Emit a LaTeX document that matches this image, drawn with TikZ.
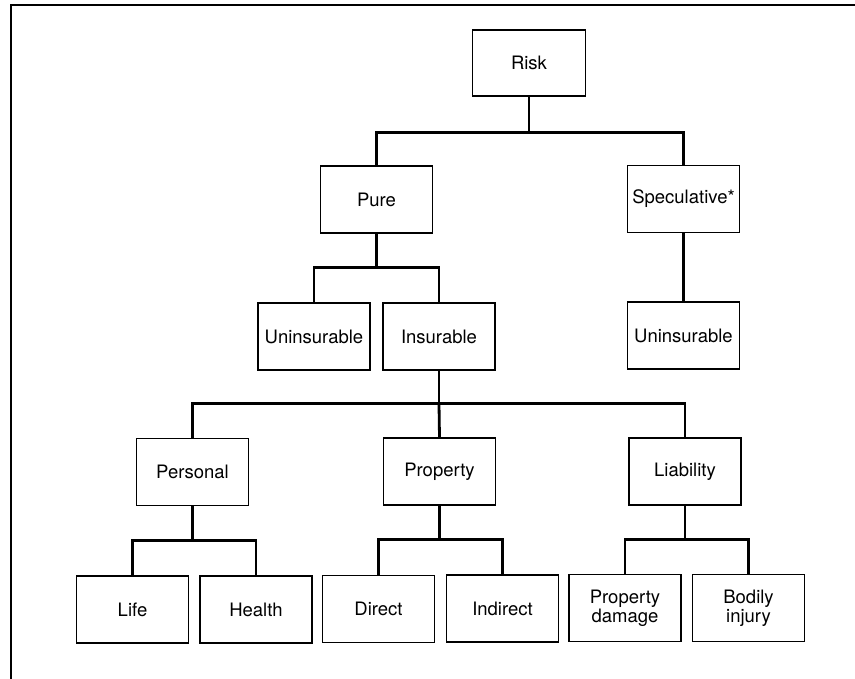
\documentclass[tikz,border=0pt]{standalone}
\usepackage{fontspec}
\setmainfont{TeX Gyre Heros}
\begin{document}
\begin{tikzpicture}[x=1pt,y=-1pt,
  box/.style={draw=black, line width=1.2pt, minimum width=112pt, minimum height=67pt,
    inner sep=0pt, align=center, font=\fontsize{18.5}{19}\selectfont},
  conn/.style={draw=black, line width=2.8pt},
  frame/.style={draw=black, line width=2.8pt}]
\useasboundingbox (0,0) rectangle (855,679);
\fill[white] (0,0) rectangle (855,679);
\draw[frame] (11,679) -- (11,5) -- (855,5);

\node[box, minimum width=113pt, minimum height=66pt] (risk) at (529,63) {Risk};
\node[box] (pure) at (376.5,199.5) {Pure};
\node[box] (spec) at (683.5,199) {Speculative*};
\node[box] (unl) at (314,336.5) {Uninsurable};
\node[box] (ins) at (439,336.5) {Insurable};
\node[box] (unr) at (683.5,335.5) {Uninsurable};
\node[box] (personal) at (192.5,472) {Personal};
\node[box] (property) at (439.5,471.5) {Property};
\node[box] (liab) at (685,471.5) {Liability};
\node[box] (life) at (132.5,609.5) {Life};
\node[box] (health) at (256,609.5) {Health};
\node[box] (direct) at (378.5,609) {Direct};
\node[box] (indirect) at (502.5,608.5) {Indirect};
\node[box] (pdam) at (625,608) {Property\\damage};
\node[box] (bodily) at (748.5,608) {Bodily\\injury};

\draw[conn] (risk.south) -- ++(0,36) coordinate (j1);
\draw[conn] (pure.north) |- (j1) -| (spec.north);
\draw[conn] (spec.south) -- (unr.north);

\draw[conn] (pure.south) -- ++(0,34) coordinate (j2);
\draw[conn] (unl.north) |- (j2) -| (ins.north);

\draw[conn] (ins.south) -- ++(0,33) coordinate (j3);
\draw[conn] (personal.north) |- (j3) -| (liab.north);
\draw[conn] (j3) -- (property.north);

\draw[conn] (personal.south) -- ++(0,34) coordinate (j4);
\draw[conn] (life.north) |- (j4) -| (health.north);

\draw[conn] (property.south) -- ++(0,34) coordinate (j5);
\draw[conn] (direct.north) |- (j5) -| (indirect.north);

\draw[conn] (liab.south) -- ++(0,34) coordinate (j6);
\draw[conn] (pdam.north) |- (j6) -| (bodily.north);
\end{tikzpicture}
\end{document}
